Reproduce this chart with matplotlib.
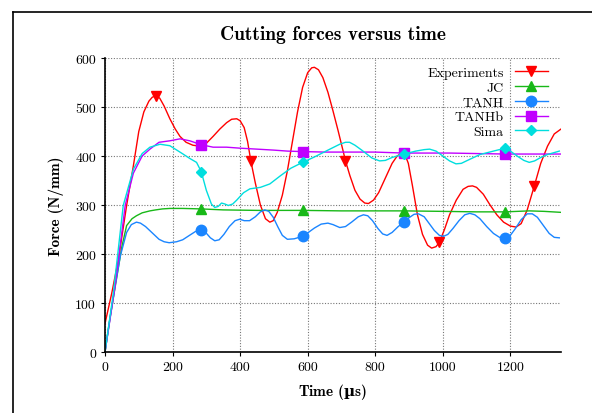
# Cutting forces versus time: experiments vs. constitutive models

import matplotlib
matplotlib.use('Agg')
import matplotlib.pyplot as plt
from matplotlib.lines import Line2D

# Experiments (time in microseconds, force in N/mm)
exp_t = [0, 20, 40, 64, 84, 100, 115, 130, 140, 151, 162, 175, 192, 208, 222,
         240, 260, 281, 300, 320, 340, 360, 375, 390, 400, 412, 422, 432, 445,
         460, 475, 488, 498, 510, 525, 540, 555, 570, 585, 600, 612, 620, 632,
         645, 660, 675, 690, 705, 712, 725, 740, 755, 769, 780, 795, 810, 830,
         850, 865, 878, 888, 898, 910, 925, 940, 955, 967, 980, 990, 1005, 1020,
         1040, 1060, 1075, 1088, 1100, 1120, 1140, 1160, 1180, 1200, 1217, 1232,
         1250, 1271, 1290, 1310, 1330, 1350]
exp_f = [58, 120, 190, 299, 380, 450, 490, 512, 520, 523, 518, 502, 476, 455, 440,
         428, 422, 420, 426, 440, 455, 468, 475, 476, 472, 458, 430, 389, 345,
         300, 272, 265, 268, 285, 320, 370, 430, 490, 540, 570, 580, 581, 576,
         560, 530, 492, 452, 410, 390, 360, 330, 312, 304, 303, 310, 325, 355,
         385, 400, 406, 403, 385, 340, 280, 240, 218, 212, 215, 224, 250, 280,
         310, 332, 338, 339, 336, 322, 300, 280, 265, 257, 255, 262,
         290, 339, 385, 420, 445, 455]
exp_marks = [151, 432, 712, 990, 1271]

# JC model
jc_t = [0, 15, 34, 50, 64, 80, 93, 110, 133, 150, 170, 192, 230, 285, 350, 450,
        585, 700, 885, 1000, 1100, 1185, 1256, 1300, 1350]
jc_f = [0, 70, 149, 215, 258, 272, 278, 284, 288, 290, 292, 293, 293, 292, 290, 289,
        289, 288, 288, 287, 286, 286, 288, 287, 285]

# TANH model
tanh_t = [0, 15, 30, 45, 64, 78, 93, 105, 120, 140, 160, 175, 190, 212, 230, 250,
          268, 285, 298, 312, 325, 338, 352, 368, 385, 399, 412, 428, 445, 460,
          473, 485, 498, 512, 525, 540, 560, 585, 600, 620, 640, 660, 675, 695,
          712, 730, 750, 765, 778, 792, 808, 822, 835, 850, 868, 885, 900, 915,
          928, 945, 960, 975, 990, 1002, 1015, 1030, 1048, 1065, 1080, 1095, 1110,
          1130, 1150, 1168, 1185, 1200, 1215, 1232, 1250, 1265, 1280, 1298, 1315,
          1330, 1345]
tanh_f = [0, 70, 135, 195, 244, 260, 265, 263, 256, 243, 230, 225, 223, 225, 229, 238,
          246, 249, 244, 233, 227, 229, 240, 256, 268, 271, 268, 268, 276, 286,
          290, 287, 275, 255, 238, 230, 231, 236, 243, 253, 261, 263, 260, 254,
          256, 265, 276, 280, 278, 268, 252, 241, 238, 244, 256, 265, 274, 281,
          282, 276, 262, 248, 238, 236, 240, 252, 268, 280, 283, 280, 272,
          256, 242, 234, 233, 238, 252, 270, 282, 282, 275, 258, 242,
          234, 233]

# TANHb model
tanhb_t = [0, 30, 60, 84, 110, 133, 160, 192, 222, 251, 285, 320, 360, 399, 450,
           500, 540, 585, 650, 720, 800, 885, 950, 1020, 1100, 1185, 1260, 1350]
tanhb_f = [0, 135, 300, 365, 400, 414, 428, 431, 435, 431, 423, 418, 418, 416, 414,
           412, 410, 409, 408, 408, 408, 406, 406, 406, 405, 404, 404, 404]

# Sima model
sima_t = [0, 25, 54, 84, 110, 133, 163, 192, 231, 251, 271, 285, 300, 315, 325,
          335, 345, 355, 365, 378, 390, 410, 429, 460, 488, 520, 550, 585, 620,
          660, 695, 712, 724, 740, 760, 790, 813, 830, 850, 885, 920, 945, 961,
          980, 1000, 1020, 1039, 1055, 1070, 1110, 1150, 1185, 1200, 1220, 1240,
          1256, 1272, 1290, 1310, 1330, 1345]
sima_f = [0, 122, 299, 373, 405, 418, 424, 421, 404, 395, 387, 368, 330, 302, 295,
          297, 304, 302, 299, 302, 310, 325, 333, 336, 343, 360, 375, 387, 398,
          412, 424, 428, 428, 422, 412, 396, 390, 391, 397, 404, 410, 413, 414,
          410, 400, 390, 384, 385, 390, 403, 410, 416, 410, 400, 391,
          387, 390, 397, 403, 407, 410]

model_marks = [285, 585, 885, 1185]

x_ticks = [0, 200, 400, 600, 800, 1000, 1200]
y_ticks = [0, 100, 200, 300, 400, 500, 600]

plt.rcParams['font.family'] = ['cmr10', 'DejaVu Serif']
plt.rcParams['axes.unicode_minus'] = False
plt.rcParams['mathtext.fontset'] = 'custom'
plt.rcParams['mathtext.bf'] = 'DejaVu Serif:bold'

fig = plt.figure(figsize=(5.92, 4.14), dpi=100)
ax = fig.add_axes([105 / 592, 1 - 353 / 414, 456 / 592, 294 / 414])


def idx(ts, marks):
    return [ts.index(m) for m in marks]


series = [
    ('Experiments', exp_t, exp_f, exp_marks, '#ff0000', 'v', 7),
    ('JC', jc_t, jc_f, model_marks, '#18b818', '^', 6.5),
    ('TANH', tanh_t, tanh_f, model_marks, '#1a85ff', 'o', 7.5),
    ('TANHb', tanhb_t, tanhb_f, model_marks, '#c000ff', 's', 7.5),
    ('Sima', sima_t, sima_f, model_marks, '#00dede', 'D', 5.5),
]
for label, t, f, marks, color, marker, ms in series:
    ax.plot(t, f, color=color, lw=1.0, marker=marker, ms=ms,
            markevery=idx(t, marks), label=label)

ax.set_xlim(0, 1350)
ax.set_ylim(0, 600)
ax.set_xticks(x_ticks)
ax.set_yticks(y_ticks)
ax.grid(True, color='#777777', linestyle=(0, (1, 1.5)), lw=0.8)
ax.tick_params(direction='out', length=3, labelsize=10, colors='black')
for side in ['top', 'right']:
    ax.spines[side].set_visible(False)
for side in ['left', 'bottom']:
    ax.spines[side].set_linewidth(1.2)

bold = ['cmb10', 'DejaVu Serif']
ax.set_title('Cutting forces versus time', fontsize=14, fontweight='bold',
             family=bold, pad=14)
ax.set_xlabel(r'Time ($\mathbf{µ}$s)', fontsize=11, family=bold, labelpad=6)
ax.set_ylabel('Force (N/mm)', fontsize=11, family=bold, labelpad=8)

ax.legend(loc='upper right', bbox_to_anchor=(0.99, 1.0), frameon=False,
          markerfirst=False, fontsize=10, handlelength=2.4, labelspacing=0.15,
          borderaxespad=0.2)

# outer frame lines seen at the left and top of the picture
fig.add_artist(Line2D([13 / 592, 13 / 592], [0, 1 - 13 / 414], color='black', lw=1.2))
fig.add_artist(Line2D([13 / 592, 1], [1 - 13 / 414, 1 - 13 / 414], color='black', lw=1.2))

fig.savefig('out.png', dpi=100)
